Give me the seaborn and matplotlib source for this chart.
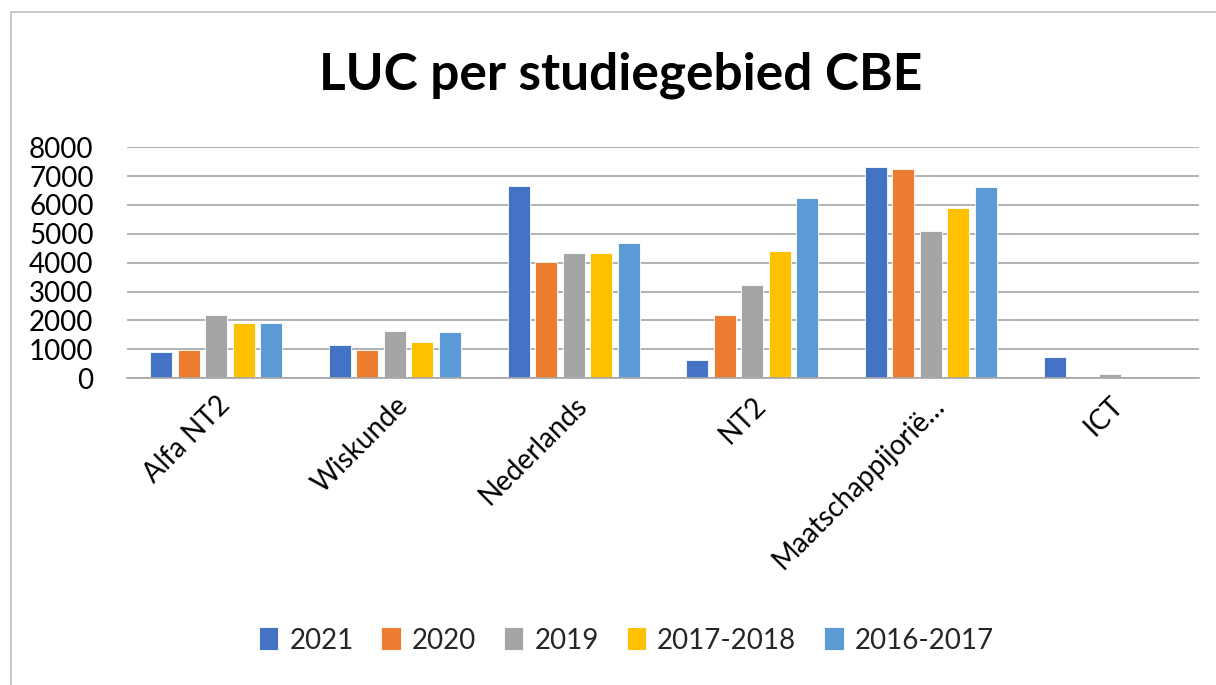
import pandas as pd
import matplotlib.pyplot as plt
import seaborn as sns
from matplotlib.patches import Rectangle

categories = ["Alfa NT2", "Wiskunde", "Nederlands", "NT2", "Maatschappijorië…", "ICT"]
series = ["2021", "2020", "2019", "2017-2018", "2016-2017"]
v2021 = [890, 1140, 6670, 620, 7310, 720]
v2020 = [960, 990, 4020, 2180, 7260, 0]
v2019 = [2180, 1640, 4340, 3210, 5100, 130]
v2017_2018 = [1920, 1260, 4340, 4400, 5910, 0]
v2016_2017 = [1920, 1590, 4670, 6240, 6620, 0]
yticks = [0, 1000, 2000, 3000, 4000, 5000, 6000, 7000, 8000]
colors = ["#4472C4", "#ED7D31", "#A5A5A5", "#FFC000", "#5B9BD5"]

rows = []
for s, vals in zip(series, [v2021, v2020, v2019, v2017_2018, v2016_2017]):
    for c, v in zip(categories, vals):
        rows.append({"studiegebied": c, "jaar": s, "LUC": v})
df = pd.DataFrame(rows)

sns.set_theme(style="white")
plt.rcParams['font.family'] = ['Lato', 'DejaVu Sans']

fig = plt.figure(figsize=(12.16, 6.85), dpi=100)
ax = fig.add_axes([0.1044, 0.448, 0.8816, 0.337])

sns.barplot(data=df, x="studiegebied", y="LUC", hue="jaar", hue_order=series,
            palette=colors, width=0.77, gap=0.2, ax=ax, saturation=1,
            edgecolor="white", linewidth=0.6)

ax.set_ylim(0, 8000)
ax.set_yticks(yticks)
ax.set_yticklabels([str(t) for t in yticks], fontsize=20, color="#000000")
ax.yaxis.grid(True, color="#A6A6A6", linewidth=1.2)
ax.set_axisbelow(True)
for sp in ["left", "right", "top"]:
    ax.spines[sp].set_visible(False)
ax.spines["bottom"].set_color("#A6A6A6")
ax.spines["bottom"].set_linewidth(1.2)
ax.tick_params(axis="y", length=0, pad=24)
ax.tick_params(axis="x", length=0, pad=10)
ax.set_xlabel("")
ax.set_ylabel("")
plt.setp(ax.get_xticklabels(), rotation=45, ha="right", rotation_mode="anchor",
         fontsize=20, color="#000000")

ax.get_legend().remove()
handles, labels = ax.get_legend_handles_labels()
fig.legend(handles, labels, loc="center", bbox_to_anchor=(0.515, 0.065), ncol=5,
           frameon=False, fontsize=20, handlelength=0.7, handleheight=0.9,
           handletextpad=0.4, columnspacing=1.0)

fig.text(0.51, 0.89, "LUC per studiegebied CBE", ha="center", va="center",
         fontsize=37, fontweight="bold", color="#000000")

fig.patches.append(Rectangle((0.009, -0.01), 1.0, 0.993, transform=fig.transFigure,
                             fill=False, edgecolor="#BFBFBF", linewidth=1.2))

fig.savefig("out.png", dpi=100)
